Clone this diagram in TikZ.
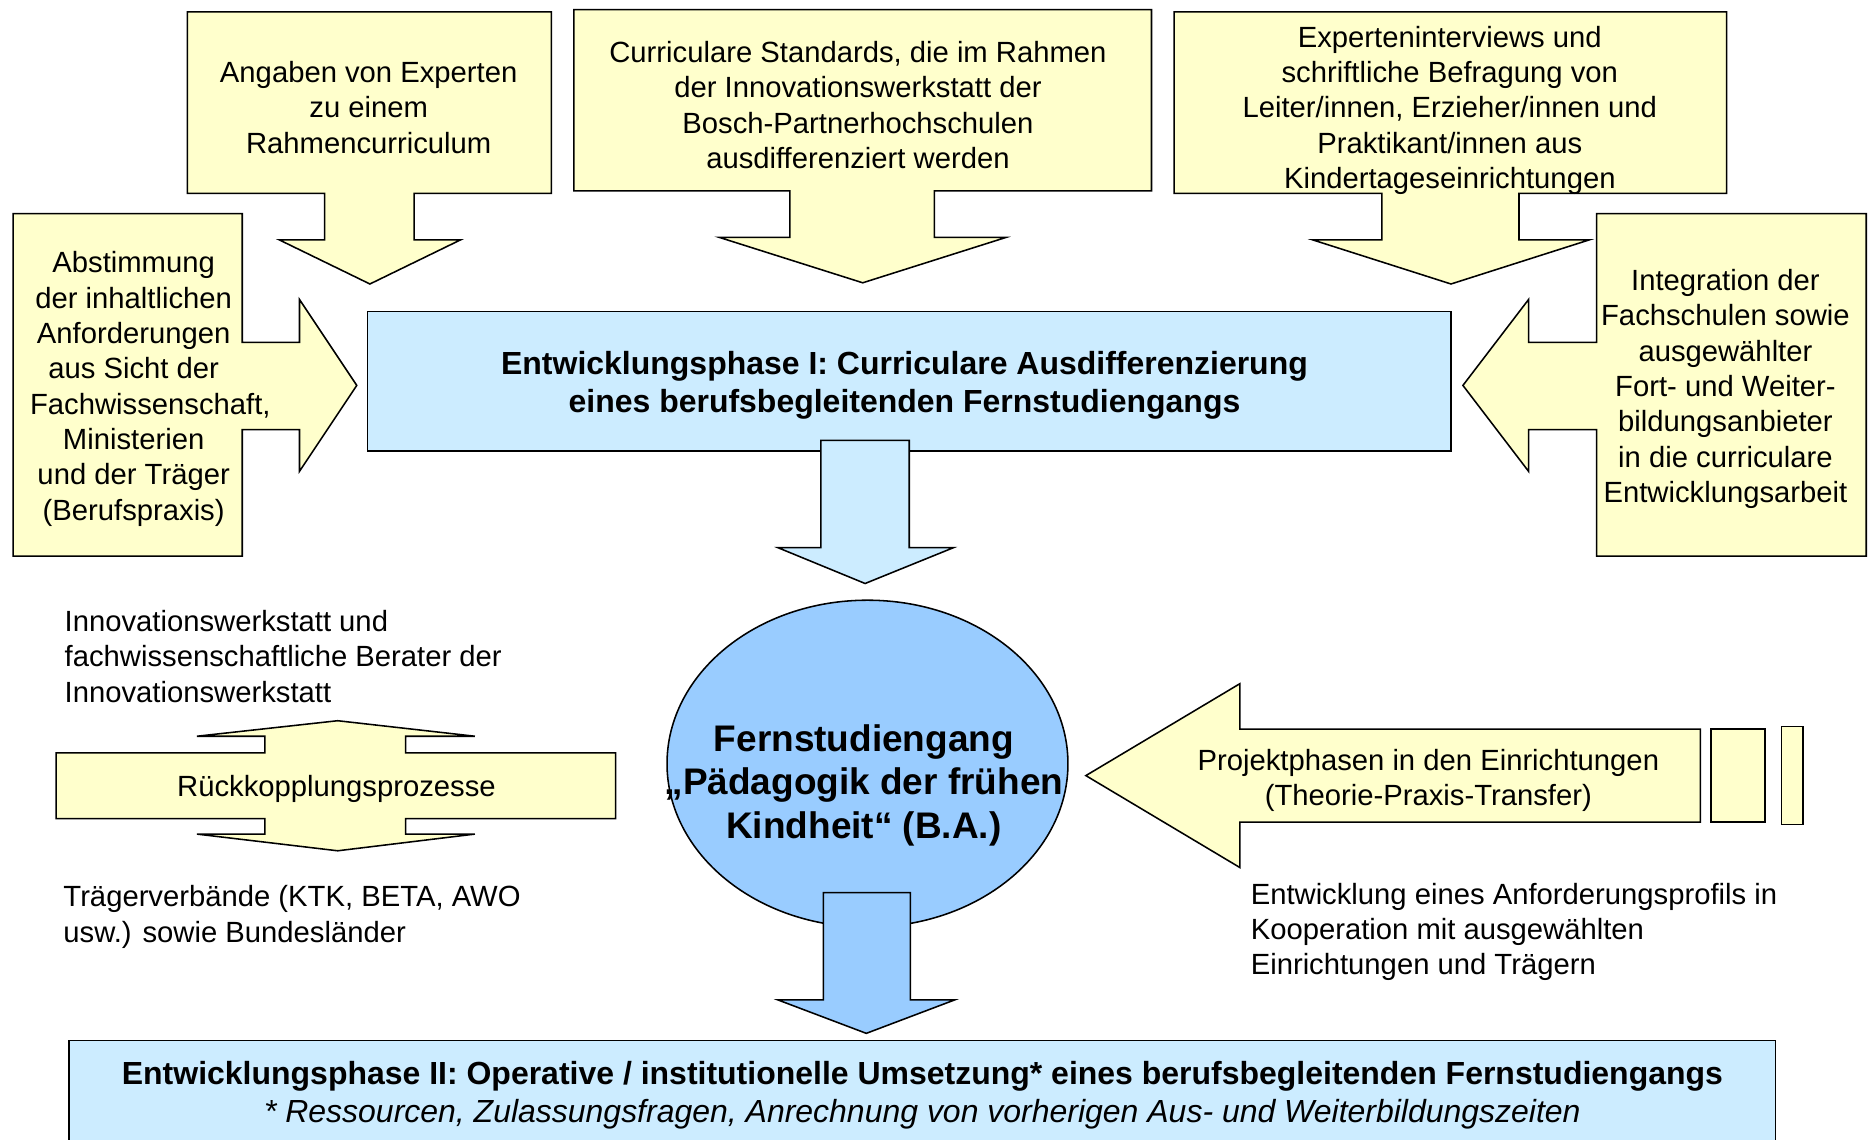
\documentclass[tikz,border=0pt]{standalone}
\usepackage{fontspec}
\setmainfont{Liberation Sans}
\definecolor{ylw}{HTML}{FFFFCC}
\definecolor{lblue}{HTML}{CCECFF}
\definecolor{mblue}{HTML}{99CCFF}
\begin{document}
\begin{tikzpicture}[x=1pt,y=-1pt,
  shp/.style={draw=black,line width=1.3pt,line join=miter},
  ybox/.style={shp,fill=ylw},
  bbox/.style={shp,fill=lblue},
  txt/.style={align=center,inner sep=0pt,font=\fontsize{24.5}{29.6}\selectfont},
  ltxt/.style={align=left,inner sep=0pt,anchor=west,font=\fontsize{24.5}{29.6}\selectfont},
  btxt/.style={align=center,inner sep=0pt,font=\fontsize{26.8}{32}\selectfont\bfseries}]
\clip (0,0) rectangle (1568,955);
\fill[white] (0,0) rectangle (1568,955);
% top boxes with down arrows
\draw[ybox] (157,10) -- (462,10) -- (462,162) -- (347,162) -- (347,201) -- (386,201) -- (310,238) -- (234,201) -- (272,201) -- (272,162) -- (157,162) -- cycle;
\node[txt] (a) at (309,90) {Angaben von Experten\\zu einem\\Rahmencurriculum};
\draw[ybox] (481,8) -- (965,8) -- (965,160) -- (783,160) -- (783,199) -- (843,199) -- (723,237) -- (603,199) -- (662,199) -- (662,160) -- (481,160) -- cycle;
\node[txt] (b) at (719,88) {Curriculare Standards, die im Rahmen\\der Innovationswerkstatt der\\Bosch-Partnerhochschulen\\ausdifferenziert werden};
\draw[ybox] (984,10) -- (1447,10) -- (1447,162) -- (1273,162) -- (1273,201) -- (1332,201) -- (1216,238) -- (1100,201) -- (1158,201) -- (1158,162) -- (984,162) -- cycle;
\node[txt] (c) at (1215,92.5) {Experteninterviews und\\schriftliche Befragung von\\Leiter/innen, Erzieher/innen und\\Praktikant/innen aus\\Kindertageseinrichtungen};
% side boxes
\draw[ybox] (11,179) -- (203,179) -- (203,287) -- (251,287) -- (251,251) -- (299,323) -- (251,395) -- (251,360) -- (203,360) -- (203,466) -- (11,466) -- cycle;
\node[txt] (d) at (112,326) {Abstimmung\\der inhaltlichen\\Anforderungen\\aus Sicht der\\\hspace*{28pt}Fachwissenschaft,\\Ministerien\\und der Träger\\(Berufspraxis)};
\draw[ybox] (1564,179) -- (1338,179) -- (1338,287) -- (1281,287) -- (1281,251) -- (1226,323) -- (1281,395) -- (1281,360) -- (1338,360) -- (1338,466) -- (1564,466) -- cycle;
\node[txt] (e) at (1446,326) {Integration der\\Fachschulen sowie\\ausgewählter\\Fort- und Weiter-\\bildungsanbieter\\in die curriculare\\Entwicklungsarbeit};
% phase I
\draw[bbox] (308,261) rectangle (1216,378);
\node[btxt] (p1) at (758,323) {Entwicklungsphase I: Curriculare Ausdifferenzierung\\eines berufsbegleitenden Fernstudiengangs};
\draw[bbox] (688,369) -- (762,369) -- (762,459) -- (799,459) -- (725,489) -- (652,459) -- (688,459) -- cycle;
% ellipse
\draw[shp,fill=mblue] (727,640) ellipse [x radius=168,y radius=137];
\node[align=center,inner sep=0pt,font=\fontsize{31}{36.5}\selectfont\bfseries] (f) at (724,658) {Fernstudiengang\\„Pädagogik der frühen\\Kindheit“ (B.A.)};
\draw[shp,fill=mblue] (690,748) -- (763,748) -- (763,838) -- (800,838) -- (726,866) -- (652,838) -- (690,838) -- cycle;
% phase II
\draw[bbox] (58,872) rectangle (1488,975);
\node[align=center,inner sep=0pt,font=\fontsize{26.8}{32}\selectfont] (p2) at (773,918) {{\bfseries Entwicklungsphase II: Operative / institutionelle Umsetzung* eines berufsbegleitenden Fernstudiengangs}\\{\itshape * Ressourcen, Zulassungsfragen, Anrechnung von vorherigen Aus- und Weiterbildungszeiten}};
% feedback double arrow
\draw[ybox] (47,631) -- (222,631) -- (222,617) -- (165,617) -- (283,604) -- (398,617) -- (340,617) -- (340,631) -- (516,631) -- (516,686) -- (340,686) -- (340,699) -- (398,699) -- (283,713) -- (165,699) -- (222,699) -- (222,686) -- (47,686) -- cycle;
\node[txt] (r) at (282,661) {Rückkopplungsprozesse};
\node[ltxt] (i) at (54,550) {Innovationswerkstatt und\\fachwissenschaftliche Berater der\\Innovationswerkstatt};
\node[ltxt] (t) at (53,768.5) {Trägerverbände (KTK, BETA, AWO\\usw.) sowie Bundesländer};
% project arrow
\draw[ybox] (910,650) -- (1039,573) -- (1039,611) -- (1425,611) -- (1425,689) -- (1039,689) -- (1039,727) -- cycle;
\draw[ybox] (1434,611) rectangle (1479,689);
\draw[ybox] (1493,609) rectangle (1511,691);
\node[txt] (pp) at (1197,654) {Projektphasen in den Einrichtungen\\(Theorie-Praxis-Transfer)};
\node[ltxt] (en) at (1048,781) {Entwicklung eines Anforderungsprofils in\\Kooperation mit ausgewählten\\Einrichtungen und Trägern};
\end{tikzpicture}
\end{document}
